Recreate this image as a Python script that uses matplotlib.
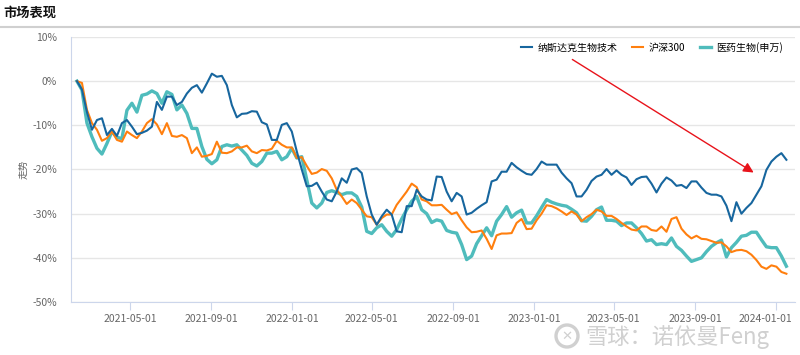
import matplotlib
matplotlib.use("Agg")
import matplotlib.pyplot as plt
import matplotlib.dates as mdates
from matplotlib.patches import Ellipse
from matplotlib.transforms import ScaledTranslation
from matplotlib.ticker import FuncFormatter, MultipleLocator
import pandas as pd

plt.rcParams["font.family"] = ["Noto Sans CJK SC", "DejaVu Sans"]
plt.rcParams["axes.unicode_minus"] = False

# weekly-ish samples, cumulative return in %
dates = pd.date_range("2021-02-10", "2024-01-17", periods=143)

nasdaq_bio = [
    0, -1.9, -7, -11, -8.8, -8.4, -12.2, -10.8, -12.4, -9.5, -8.8, -10.3,
    -12, -11.7, -11.2, -10.3, -4.7, -6.5, -3.5, -3.5, -5.4, -4.7, -2.8, -1.5,
    -0.9, -2.6, -0.5, 1.7, 1, 1.2, -0.9, -5.4, -8.2, -7.4, -7.3, -6.8,
    -6.9, -9.3, -9.8, -13.3, -13.3, -9.9, -9.5, -11.4, -15.9, -20, -23.8, -23.7,
    -23, -25, -26.8, -27.2, -25, -22, -23, -20, -19.7, -20.8, -26.1, -30.2,
    -32.5, -30.6, -29.1, -30.2, -34, -34.2, -28.3, -28.3, -24.6, -26.1, -26.8, -27,
    -21.6, -21.7, -25, -27.2, -25.3, -26.1, -30.2, -29.8, -28.9, -28.1, -27.4, -22.7,
    -22.3, -20.5, -20.5, -18.5, -19.5, -20.3, -21, -21.2, -19.9, -18.2, -18.9, -18.9,
    -18.9, -20.7, -22, -23.1, -26.1, -26.1, -24.6, -22.6, -21.6, -21.2, -19.9, -21.2,
    -20.2, -21.2, -21.8, -23.5, -22.2, -21.7, -21.6, -23.2, -25.2, -23.2, -21.8, -22.5,
    -23.7, -23.5, -24.2, -22.7, -22.7, -24.1, -25.3, -25.7, -25.7, -26.1, -28.2, -31.7,
    -27.4, -30, -28.7, -27.6, -25.7, -23.8, -20.1, -18.2, -17.1, -16.3, -17.8,
]
hs300 = [
    0, -0.4, -6.5, -9.5, -11, -13.5, -12.9, -11.4, -13.3, -13.7, -11.4, -12.2,
    -12.9, -11.4, -9.5, -8.6, -9.8, -12, -9.5, -12.4, -12.6, -12.2, -12.9, -16.3,
    -15, -17.1, -16.9, -16.5, -13.7, -16.2, -16.3, -15.9, -15, -15, -14.6, -15.9,
    -16.3, -15.6, -15.7, -15.3, -13.5, -14.4, -15, -15, -17.4, -17.2, -19.2, -21,
    -20.7, -19.9, -20.3, -22, -24.6, -26.1, -27.8, -26.8, -27.6, -29.1, -30.6, -30.8,
    -32.5, -31, -30.2, -30.2, -28, -26.5, -25, -23.2, -24, -26.8, -27.2, -28.1,
    -28.1, -28, -29.1, -30.1, -29.7, -31.5, -33.1, -34.2, -34.1, -33.8, -35.7, -38,
    -34.9, -34.5, -34.5, -34.4, -32.1, -31.2, -33.5, -33.4, -31.5, -30, -28.1, -28.3,
    -28.8, -29.5, -30.3, -29.5, -30.2, -31.7, -30.8, -30.1, -29.1, -29.5, -30.5, -30.5,
    -31.2, -32.1, -32.9, -33.6, -33.8, -32.9, -32.9, -33.7, -33.9, -32.9, -34.1, -31.2,
    -30.8, -33.4, -34.7, -35.6, -35, -35.7, -35.8, -36.2, -36.6, -36.5, -37.4, -38.7,
    -38.3, -38.2, -38.5, -39.3, -40.5, -42, -42.5, -41.7, -42, -43.2, -43.6,
]
sw_pharma = [
    0, -2, -9.5, -12.6, -15.2, -16.5, -14.1, -11.4, -12.7, -13, -6.6, -5,
    -7, -3.2, -2.9, -2.2, -2.8, -5, -2.4, -3, -6.5, -5.4, -7.3, -10.7,
    -10.7, -14.8, -17.7, -18.7, -17.8, -14.8, -14.4, -14.7, -14.4, -15.6, -16.8, -18.6,
    -19.2, -18.2, -16.3, -16.3, -15.9, -17.8, -17.1, -15.2, -17.4, -17.1, -22.3, -27.6,
    -28.7, -27.6, -25.2, -24.8, -25.2, -25.7, -25.3, -25.3, -26.1, -28.5, -34, -34.5,
    -33.2, -32.5, -34, -35.1, -33.6, -31.2, -29.1, -27.2, -26.1, -29.1, -30, -32,
    -31.4, -31.7, -33.8, -34.2, -34.4, -37, -40.4, -39.6, -36.8, -35, -33.2, -35,
    -31.7, -30.2, -28.4, -30.8, -29.8, -29.2, -32.1, -32.1, -30.5, -28.6, -26.8, -27.4,
    -27.8, -28.1, -28.3, -29, -29.8, -31.6, -31.7, -30.6, -29.1, -28.5, -31.5, -31.5,
    -31.7, -32.7, -32.1, -32.1, -33.2, -34.5, -36.2, -35.9, -37, -36.8, -37, -35.5,
    -37.4, -38.3, -39.6, -40.8, -40.4, -40, -38.6, -37.4, -36.6, -36, -39.8, -37.7,
    -36.5, -35.1, -34.9, -34.2, -34.2, -35.9, -37.5, -37.7, -37.7, -39.6, -41.9,
]

series_names = ["纳斯达克生物技术", "沪深300", "医药生物(申万)"]
tick_dates = ["2021-05-01", "2021-09-01", "2022-01-01", "2022-05-01", "2022-09-01",
              "2023-01-01", "2023-05-01", "2023-09-01", "2024-01-01"]

BLUE = "#17669e"
ORANGE = "#ff7f0e"
TEAL = "#4fbcbc"
AXIS = "#ccd6eb"
GRID = "#e6e6e6"
LABEL = "#666666"

fig = plt.figure(figsize=(8, 3.55), dpi=100)
ax = fig.add_axes([71 / 800, 53 / 355, 724 / 800, 265 / 355])

ax.plot(dates, nasdaq_bio, color=BLUE, linewidth=1.5, label=series_names[0], zorder=4)
ax.plot(dates, hs300, color=ORANGE, linewidth=1.5, label=series_names[1], zorder=3)
ax.plot(dates, sw_pharma, color=TEAL, linewidth=2.4, label=series_names[2], zorder=2)

ax.set_xlim(pd.Timestamp("2021-02-01"), pd.Timestamp("2024-01-30"))
ax.set_ylim(-50, 10)
ax.yaxis.set_major_locator(MultipleLocator(10))
ax.yaxis.set_major_formatter(FuncFormatter(lambda v, _: f"{v:.0f}%"))
ax.set_xticks(pd.to_datetime(tick_dates))
ax.xaxis.set_major_formatter(mdates.DateFormatter("%Y-%m-%d"))

ax.grid(axis="y", color=GRID, linewidth=1)
ax.set_axisbelow(True)
for side in ["top", "right"]:
    ax.spines[side].set_visible(False)
ax.spines["left"].set_color(AXIS)
ax.spines["bottom"].set_color(AXIS)
ax.tick_params(axis="y", length=0, pad=10, labelsize=7.5, labelcolor=LABEL)
ax.tick_params(axis="x", length=6, color=AXIS, pad=3, labelsize=7.5, labelcolor=LABEL)
ax.set_ylabel("走势", fontsize=7, color=LABEL, labelpad=3)

# last date label is pushed left so it stays inside the canvas
fig.canvas.draw()
last = ax.get_xticklabels()[-1]
last.set_transform(last.get_transform() + ScaledTranslation(-0.1, 0, fig.dpi_scale_trans))

ax.legend(loc="upper right", bbox_to_anchor=(0.995, 1.015), ncol=3, frameon=False,
          fontsize=7.2, handlelength=1.1, columnspacing=1.5, handletextpad=0.5)

# header
fig.text(3 / 800, 1 - 13 / 355, "市场表现", fontsize=9.5, fontweight="bold",
         color="#111111", va="center", ha="left")
fig.add_artist(plt.Line2D([0, 1], [1 - 27 / 355, 1 - 27 / 355], color="#d0d0d0",
                          linewidth=1.5, transform=fig.transFigure))

# red arrow
ax.annotate("", xy=(756, 355 - 174), xycoords="figure pixels",
            xytext=(570, 355 - 58), textcoords="figure pixels",
            arrowprops=dict(arrowstyle="-|>", color="#e8131b", linewidth=1,
                            mutation_scale=15))

# watermark
fig.text(585 / 800, 1 - 337 / 355, "雪球：诺依曼Feng", fontsize=16, color="#d0d0d0",
         va="center", ha="left")
fig.add_artist(Ellipse((567 / 800, 1 - 336 / 355), 22 / 800, 22 / 355,
                       transform=fig.transFigure, fill=False,
                       edgecolor="#d0d0d0", linewidth=2.4))
fig.text(567 / 800, 1 - 336 / 355, "✕", fontsize=9.5, color="#d0d0d0",
         va="center", ha="center", family=["DejaVu Sans"])

fig.savefig("out.png", dpi=100)
